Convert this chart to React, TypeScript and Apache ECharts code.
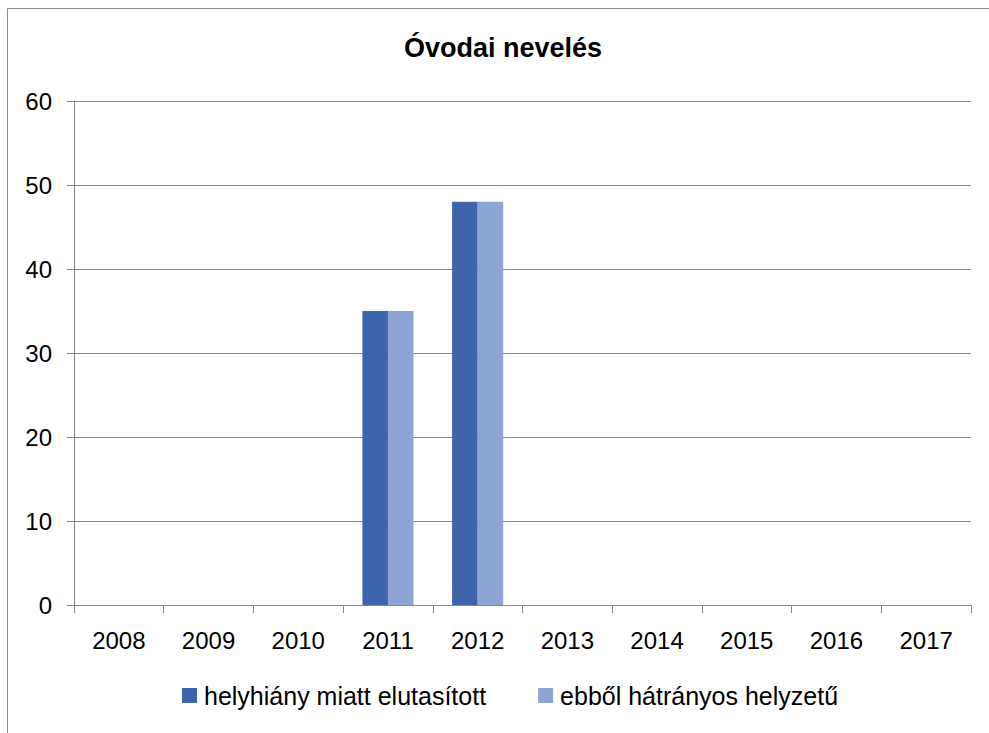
import React, { useEffect, useRef } from "react";
import * as echarts from "echarts";

const title = "Óvodai nevelés";
const categories = ["2008", "2009", "2010", "2011", "2012", "2013", "2014", "2015", "2016", "2017"];
const seriesNames = ["helyhiány miatt elutasított", "ebből hátrányos helyzetű"];
const rejected = [0, 0, 0, 35, 48, 0, 0, 0, 0, 0];
const disadvantaged = [0, 0, 0, 35, 48, 0, 0, 0, 0, 0];
const colors = ["#3D64AC", "#8EA5D4"];

const FONT = "Liberation Sans";

export default function App() {
  const ref = useRef<HTMLDivElement>(null);
  useEffect(() => {
    if (!ref.current) return;
    const chart = echarts.init(ref.current, null, { renderer: "svg" });
    chart.setOption({
      animation: false,
      backgroundColor: "#ffffff",
      textStyle: { fontFamily: FONT },
      title: {
        text: title,
        left: 404,
        top: 34,
        padding: 0,
        textStyle: { fontFamily: FONT, fontSize: 27, fontWeight: "bold", color: "#000" },
      },
      graphic: [
        {
          type: "rect",
          shape: { x: 7.5, y: 8.5, width: 1000, height: 800 },
          style: { fill: "none", stroke: "#8a8a8a", lineWidth: 1 },
          silent: true,
        },
      ],
      legend: {
        top: 683,
        left: 182,
        padding: 0,
        itemWidth: 15,
        itemHeight: 15,
        itemGap: 52,
        icon: "rect",
        textStyle: { fontFamily: FONT, fontSize: 25, color: "#000", padding: [0, 0, 0, 2] },
        data: seriesNames,
      },
      grid: { left: 74, right: 18, top: 101, bottom: 128, containLabel: false },
      xAxis: {
        type: "category",
        data: categories,
        boundaryGap: true,
        axisLine: { lineStyle: { color: "#868686", width: 1 } },
        axisTick: { show: true, length: 8, lineStyle: { color: "#868686" } },
        axisLabel: { fontFamily: FONT, fontSize: 24, color: "#000", margin: 23 },
      },
      yAxis: {
        type: "value",
        min: 0,
        max: 60,
        interval: 10,
        axisLine: { show: true, lineStyle: { color: "#868686", width: 1 } },
        axisTick: { show: true, length: 7, lineStyle: { color: "#868686" } },
        splitLine: { show: true, lineStyle: { color: "#868686", width: 1 } },
        axisLabel: { fontFamily: FONT, fontSize: 24, color: "#000", margin: 22 },
      },
      series: [
        {
          name: seriesNames[0],
          type: "bar",
          data: rejected,
          itemStyle: { color: colors[0] },
          barGap: "0%",
          barCategoryGap: "43%",
        },
        {
          name: seriesNames[1],
          type: "bar",
          data: disadvantaged,
          itemStyle: { color: colors[1] },
          barGap: "0%",
          barCategoryGap: "43%",
        },
      ],
    });
    return () => chart.dispose();
  }, []);
  return (
    <div
      ref={ref}
      style={{ position: "fixed", left: 0, top: 0, width: 989, height: 733 }}
    />
  );
}
